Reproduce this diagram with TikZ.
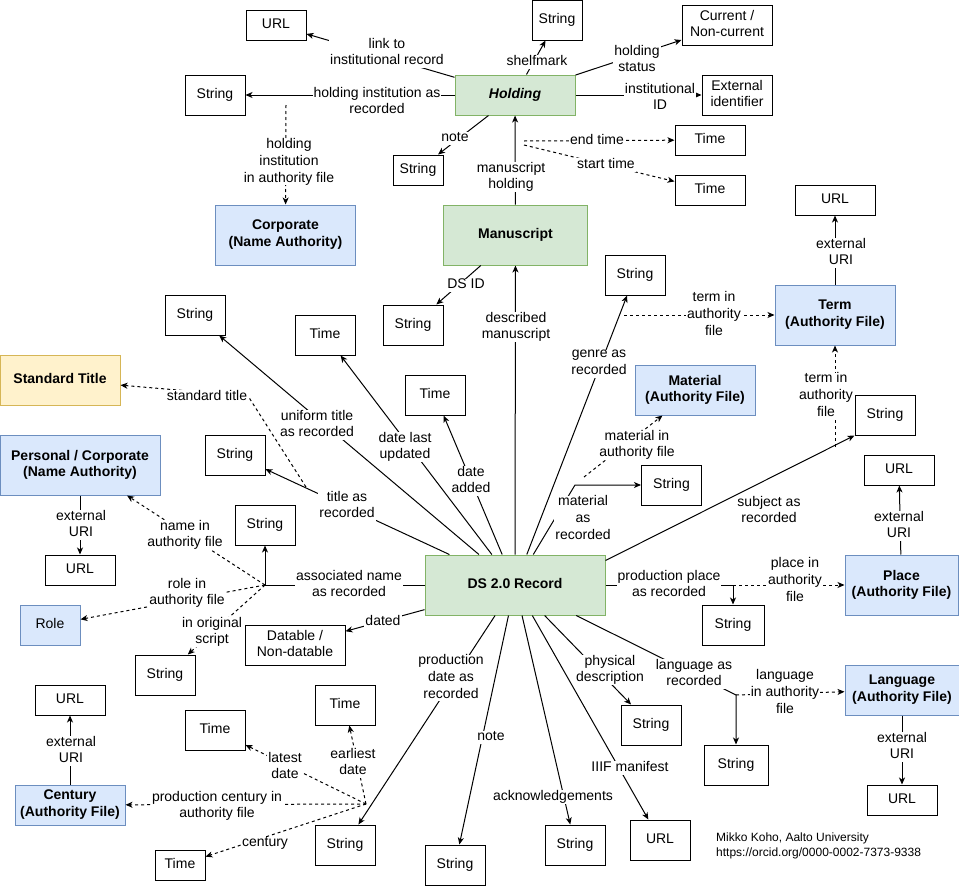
\documentclass[tikz,border=0pt]{standalone}
\usepackage{fontspec}
\setmainfont{Liberation Sans}
\usetikzlibrary{arrows.meta}
\definecolor{gfill}{HTML}{D5E8D4}
\definecolor{gdraw}{HTML}{82B366}
\definecolor{bfill}{HTML}{DAE8FC}
\definecolor{bdraw}{HTML}{6C8EBF}
\definecolor{yfill}{HTML}{FFF2CC}
\definecolor{ydraw}{HTML}{D6B656}
\newcommand\mystrut{\rule[-3.2pt]{0pt}{13pt}}
\tikzset{
  base/.style={line width=1pt, inner sep=0pt, align=center, font=\fontsize{14}{16.8}\selectfont,
    execute at begin node=\mystrut, execute at end node=\mystrut},
  sz/.style 2 args={minimum width=#1pt, minimum height=#2pt},
  wbox/.style={base, draw=black, fill=white},
  gbox/.style={base, draw=gdraw, fill=gfill, font=\fontsize{14}{16.8}\selectfont\bfseries},
  bbox/.style={base, draw=bdraw, fill=bfill, font=\fontsize{14}{16.8}\selectfont\bfseries},
  ybox/.style={base, draw=ydraw, fill=yfill, font=\fontsize{14}{16.8}\selectfont\bfseries},
  lbl/.style={fill=white, inner xsep=1pt, inner ysep=0pt, align=center, font=\fontsize{14}{16.8}\selectfont,
    execute at begin node=\mystrut, execute at end node=\mystrut},
  arr/.style={line width=1pt, -{Stealth[length=7pt,width=6pt,inset=2pt]}},
  dsh/.style={arr, dash pattern=on 3pt off 3pt},
}
\begin{document}
\begin{tikzpicture}[x=1pt,y=-1pt]
\useasboundingbox[fill=white] (0,0) rectangle (959,886);
% ---------- boxes ----------
\node[wbox, sz={60}{30}] (url1) at (276,25) {URL};
\node[wbox, sz={50}{40}] (strshelf) at (557,20) {String};
\node[wbox, sz={90}{40}] (curr) at (727,25) {Current /\\Non-current};
\node[wbox, sz={60}{40}] (strhi) at (215,95) {String};
\node[gbox, sz={120}{40}] (holding) at (515,95) {\textit{Holding}};
\node[wbox, sz={70}{40}] (extid) at (737,95) {External\\identifier};
\node[wbox, sz={50}{30}] (strnote) at (418,170) {String};
\node[wbox, sz={70}{30}] (tend) at (710,140) {Time};
\node[wbox, sz={70}{30}] (tstart) at (710,190) {Time};
\node[bbox, sz={140}{60}] (corp) at (285.5,235) {Corporate\\(Name Authority)};
\node[gbox, sz={144}{60}] (ms) at (515.5,235) {Manuscript};
\node[wbox, sz={80}{30}] (urlterm) at (835,200) {URL};
\node[wbox, sz={60}{40}] (strgenre) at (635,275) {String};
\node[bbox, sz={120}{60}] (term) at (835,315) {Term\\(Authority File)};
\node[wbox, sz={60}{40}] (strdsid) at (413,325) {String};
\node[wbox, sz={60}{40}] (struni) at (195,315) {String};
\node[wbox, sz={60}{40}] (tlast) at (325,335) {Time};
\node[ybox, sz={120}{50}] (stdt) at (60,380) {Standard Title};
\node[wbox, sz={60}{40}] (tadded) at (435,395) {Time};
\node[bbox, sz={120}{50}] (mat) at (695,390) {Material\\(Authority File)};
\node[wbox, sz={60}{40}] (strmat) at (671.5,485) {String};
\node[wbox, sz={60}{40}] (strsubj) at (885,415) {String};
\node[wbox, sz={70}{30}] (urlplace) at (899,470) {URL};
\node[bbox, sz={113}{60}] (place) at (901.5,585) {Place\\(Authority File)};
\node[gbox, sz={180}{60}] (ds) at (515,585) {DS 2.0 Record};
\node[wbox, sz={62}{40}] (strpp) at (733,625) {String};
\node[wbox, sz={60}{40}] (strphys) at (651,725) {String};
\node[wbox, sz={64}{40}] (strlang) at (736,765) {String};
\node[bbox, sz={114}{50}] (lang) at (902,690) {Language\\(Authority File)};
\node[wbox, sz={70}{30}] (urllang) at (902,800) {URL};
\node[wbox, sz={60}{40}] (urliiif) at (660,840) {URL};
\node[wbox, sz={60}{40}] (strack) at (575,845) {String};
\node[wbox, sz={60}{40}] (strnoteb) at (455,865) {String};
\node[wbox, sz={60}{40}] (strorig) at (165,675) {String};
\node[wbox, sz={70}{30}] (urlcent) at (70,700) {URL};
\node[wbox, sz={60}{40}] (tlatest) at (215,730) {Time};
\node[wbox, sz={60}{40}] (tearliest) at (345,705) {Time};
\node[bbox, sz={110}{40}] (cent) at (70,805) {Century\\(Authority File)};
\node[wbox, sz={50}{30}] (tcent) at (180,865) {Time};
\node[wbox, sz={60}{40}] (strpd) at (345,845) {String};
\node[bbox, sz={160}{60}] (pers) at (80,465) {Personal / Corporate\\(Name Authority)};
\node[wbox, sz={70}{30}] (urlpers) at (80,570) {URL};
\node[bbox, sz={60}{40}, font=\fontsize{14}{16.8}\selectfont] (role) at (50,625) {Role};
\node[wbox, sz={60}{40}] (strtitle) at (235,455) {String};
\node[wbox, sz={60}{40}] (strassoc) at (265,525) {String};
\node[wbox, sz={100}{40}] (datable) at (295,645) {Datable /\\Non-datable};
\node[anchor=west, align=left, inner sep=0pt, font=\fontsize{12}{14.4}\selectfont] (author) at (716,846) {Mikko Koho, Aalto University\\https://orcid.org/0000-0002-7373-9338};
% ---------- junction points ----------
\coordinate (hiauth) at (286,105);
\coordinate (tendc) at (524,141);
\coordinate (tstartc) at (524,145);
\coordinate (matbend) at (575,485);
\coordinate (matauth) at (584,477);
\coordinate (genreauth) at (624,315);
\coordinate (subjauth) at (835,447);
\coordinate (ppbend) at (733,585);
\coordinate (langbend) at (736,695);
\coordinate (assocbend) at (265,585);
\coordinate (stdbend) at (248,396);
\coordinate (stdstart) at (306,487);
\coordinate (centc) at (366,804);
% ---------- connectors ----------
\draw[arr] (holding) -- (url1);
\draw[arr] (holding) -- (strshelf);
\draw[arr] (holding) -- (curr);
\draw[arr] (holding) -- (extid);
\draw[arr] (holding) -- (strhi);
\draw[arr] (holding) -- (strnote);
\draw[arr] (ms) -- (holding);
\draw[dsh] (hiauth) -- (corp);
\draw[dsh] (tendc) -- (tend);
\draw[dsh] (tstartc) -- (tstart);
\draw[arr] (ms) -- (strdsid);
\draw[arr] (ds) -- (ms);
\draw[arr] (ds) -- (strtitle);
\draw[arr] (ds) -- (struni);
\draw[arr] (ds) -- (tlast);
\draw[arr] (ds) -- (tadded);
\draw[arr] (ds) -- (strgenre);
\draw[dsh] (genreauth) -- (term);
\draw[arr] (ds) -- (matbend) -- (strmat);
\draw[dsh] (matauth) -- (mat);
\draw[arr] ([yshift=-6pt]ds.north east) -- (strsubj.south west);
\draw[dsh] (subjauth) -- (term);
\draw[arr] (term) -- (urlterm);
\draw[arr] (place) -- (urlplace);
\draw[arr] (lang) -- (urllang);
\draw[arr] (pers) -- (urlpers);
\draw[arr] (cent) -- (urlcent);
\draw[arr] (ds) -- (ppbend) -- (strpp);
\draw[dsh] (ppbend) -- (place);
\draw[arr] (ds) -- (langbend) -- (strlang);
\draw[dsh] (langbend) -- (lang);
\draw[arr] (ds) -- (strphys);
\draw[arr] (ds) -- (urliiif);
\draw[arr] (ds) -- (strack);
\draw[arr] (ds) -- (strnoteb);
\draw[arr] (ds) -- (strpd);
\draw[dsh] (centc) -- (tearliest);
\draw[dsh] (centc) -- (tlatest);
\draw[dsh] (centc) -- (cent);
\draw[dsh] (centc) -- (tcent);
\draw[arr] (ds) -- (datable);
\draw[arr] (ds) -- (assocbend) -- (strassoc);
\draw[dsh] (assocbend) -- (pers);
\draw[dsh] (assocbend) -- (role);
\draw[dsh] (assocbend) -- (strorig);
\draw[dsh] (stdstart) -- (stdbend) -- (stdt);
% ---------- labels ----------
\node[lbl] (l01) at (387,53) {link to\\institutional record};
\node[lbl] (l02) at (537,62) {shelfmark};
\node[lbl] (l03) at (637,60) {holding\\status};
\node[lbl] (l04) at (660,98) {institutional\\ID};
\node[lbl] (l05) at (377,102) {holding institution as\\recorded};
\node[lbl] (l06) at (289,162) {holding\\institution\\in authority file};
\node[lbl] (l07) at (455,138) {note};
\node[lbl] (l08) at (511,177) {manuscript\\holding};
\node[lbl] (l09) at (597,141) {end time};
\node[lbl] (l10) at (606,165) {start time};
\node[lbl] (l11) at (841,253) {external\\URI};
\node[lbl] (l12) at (714,315) {term in\\authority\\file};
\node[lbl] (l13) at (466,285) {DS ID};
\node[lbl] (l14) at (516,327) {described\\manuscript};
\node[lbl] (l15) at (599,364) {genre as\\recorded};
\node[lbl] (l16) at (826,396) {term in\\authority\\file};
\node[lbl] (l17) at (207,397) {standard title};
\node[lbl] (l18) at (317,425) {uniform title\\as recorded};
\node[lbl] (l19) at (405,447) {date last\\updated};
\node[lbl] (l20) at (471,481) {date\\added};
\node[lbl] (l21) at (637,445) {material in\\authority file};
\node[lbl] (l22) at (347,506) {title as\\recorded};
\node[lbl] (l23) at (583,519) {material\\as\\recorded};
\node[lbl] (l24) at (769,511) {subject as\\recorded};
\node[lbl] (l25) at (899,526) {external\\URI};
\node[lbl] (l26) at (185,535) {name in\\authority file};
\node[lbl] (l27) at (81,525) {external\\URI};
\node[lbl] (l28) at (349,585) {associated name\\as recorded};
\node[lbl] (l29) at (187,593) {role in\\authority file};
\node[lbl] (l30) at (669,585) {production place\\as recorded};
\node[lbl] (l31) at (795,581) {place in\\authority\\file};
\node[lbl] (l32) at (383,622) {dated};
\node[lbl] (l33) at (212,632) {in original\\script};
\node[lbl] (l34) at (610,670) {physical\\description};
\node[lbl] (l35) at (694,674) {language as\\recorded};
\node[lbl] (l36) at (785,693) {language\\in authority\\file};
\node[lbl] (l37) at (451,678) {production\\date as\\recorded};
\node[lbl] (l38) at (902,747) {external\\URI};
\node[lbl] (l39) at (71,751) {external\\URI};
\node[lbl] (l40) at (353,763) {earliest\\date};
\node[lbl] (l41) at (285,767) {latest\\date};
\node[lbl] (l42) at (491,737) {note};
\node[lbl] (l43) at (630,768) {IIIF manifest};
\node[lbl] (l44) at (553,797) {acknowledgements};
\node[lbl] (l45) at (217,806) {production century in\\authority file};
\node[lbl] (l46) at (265,843) {century};
\end{tikzpicture}
\end{document}
